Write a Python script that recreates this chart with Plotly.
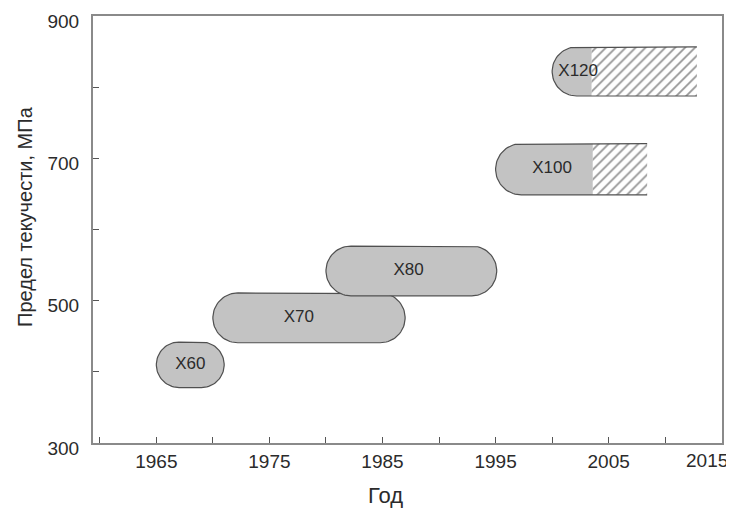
import numpy as np
import plotly.graph_objects as go

# ---- data ----
grades = ["X60", "X70", "X80", "X100", "X120"]
start_year = [1965.0, 1970.0, 1980.0, 1995.0, 2000.0]
end_year = [1971.0, 1987.0, 1995.1, 2003.6, 2003.5]
forecast_end = [None, None, None, 2008.4, 2012.8]
y_low = [378, 441, 507, 649, 788]
y_high = [442, 511, 577, 721, 857]
label_year = [1968.0, 1977.6, 1987.3, 2000.0, 2002.3]

x_tick_vals = [1965, 1975, 1985, 1995, 2005, 2015]
x_tick_text = ["1965", "1975", "1985", "1995", "2005", "2015"]
y_tick_vals = [300, 500, 700, 900]

x_title = "Год"
y_title = "Предел текучести, МПа"

# ---- layout constants ----
# the page body has an 8px default margin, so the figure is sized to fit the window
W, H = 726, 507
ML, MR, MT, MB = 85, 12, 8, 72
X_RANGE = [1959.4, 2015.02]
Y_RANGE = [300, 900.5]
ppx = (W - ML - MR) / (X_RANGE[1] - X_RANGE[0])   # pixels per year
ppy = (H - MT - MB) / (Y_RANGE[1] - Y_RANGE[0])   # pixels per MPa

FONT = "Liberation Sans, Arial, Helvetica, sans-serif"
FILL = "#c3c3c3"
EDGE = "#505050"
TXT = "#2b2b2b"


def cap(cx, cy, rx, ry, t0, t1, n=40):
    t = np.linspace(t0, t1, n)
    return list(cx + rx * np.cos(t)), list(cy + ry * np.sin(t))


fig = go.Figure()

for g, xs, xe, xf, yl, yh, lx in zip(grades, start_year, end_year, forecast_end,
                                      y_low, y_high, label_year):
    ym = (yl + yh) / 2
    ry = (yh - yl) / 2
    rx = ry * ppy / ppx  # semicircle in pixel space
    if xf is None:
        rxs, rys = cap(xe - rx, ym, rx, ry, np.pi / 2, -np.pi / 2)
        lxs, lys = cap(xs + rx, ym, rx, ry, -np.pi / 2, -3 * np.pi / 2)
        px = [xs + rx] + rxs + lxs + [xs + rx]
        py = [yh] + rys + lys + [yh]
        fig.add_trace(go.Scatter(x=px, y=py, mode="lines", fill="toself",
                                 fillcolor=FILL, line=dict(color=EDGE, width=1.2),
                                 hoverinfo="skip", showlegend=False))
    else:
        lxs, lys = cap(xs + rx, ym, rx, ry, np.pi / 2, 3 * np.pi / 2)
        px = [xe] + lxs + [xe]
        py = [yh] + lys + [yl]
        fig.add_trace(go.Scatter(x=px, y=py, mode="lines", fill="toself",
                                 fillcolor=FILL, line=dict(width=0),
                                 hoverinfo="skip", showlegend=False))
        fig.add_trace(go.Scatter(x=[xe, xf, xf, xe, xe], y=[yh, yh, yl, yl, yh],
                                 mode="lines", fill="toself", fillcolor="white",
                                 fillpattern=dict(shape="/", fgcolor="#2a2a2a", bgcolor="white",
                                                  size=7, solidity=0.25),
                                 line=dict(width=0), hoverinfo="skip", showlegend=False))
        ox = [xf] + lxs + [xf]
        oy = [yh] + lys + [yl]
        fig.add_trace(go.Scatter(x=ox, y=oy, mode="lines",
                                 line=dict(color=EDGE, width=1.2),
                                 hoverinfo="skip", showlegend=False))
    fig.add_trace(go.Scatter(x=[lx], y=[ym], mode="text", text=[g],
                             textfont=dict(family=FONT, size=17, color=TXT),
                             hoverinfo="skip", showlegend=False))

axis_common = dict(showline=True, linecolor="#8a8a8a", linewidth=2, mirror=True,
                   showgrid=False, zeroline=False, ticks="inside", ticklen=6,
                   tickcolor="#555", tickwidth=1.2, automargin=False,
                   ticklabeloverflow="allow",
                   tickfont=dict(family=FONT, size=19, color=TXT))

# last x label is pulled inside the window as in the reference
fig.update_xaxes(range=X_RANGE, tickvals=x_tick_vals,
                 ticktext=x_tick_text[:-1] + [""], ticklabelstandoff=0,
                 minor=dict(dtick=5, tick0=1965, ticks="inside", ticklen=6,
                            tickcolor="#555", tickwidth=1.2),
                 **axis_common)
fig.update_yaxes(range=Y_RANGE, tickvals=y_tick_vals, ticklabelstandoff=8,
                 ticklabelshift=5,
                 minor=dict(dtick=100, tick0=300, ticks="inside", ticklen=6,
                            tickcolor="#555", tickwidth=1.2),
                 **axis_common)

fig.add_annotation(text=x_tick_text[-1], x=x_tick_vals[-1], xref="x", xanchor="center",
                   xshift=-15, y=0, yref="paper", yanchor="middle", yshift=-17,
                   showarrow=False, font=dict(family=FONT, size=19, color=TXT))
fig.add_annotation(text=x_title, x=1985.3, xref="x", y=-0.124, yref="paper",
                   yanchor="middle", showarrow=False,
                   font=dict(family=FONT, size=22, color=TXT))
fig.add_annotation(text=y_title, x=-0.108, xref="paper", y=618, yref="y",
                   textangle=-90, xanchor="center", showarrow=False,
                   font=dict(family=FONT, size=20, color=TXT))

fig.update_layout(width=W, height=H, margin=dict(l=ML, r=MR, t=MT, b=MB),
                  plot_bgcolor="white", paper_bgcolor="white")

fig.write_html("out.html")
